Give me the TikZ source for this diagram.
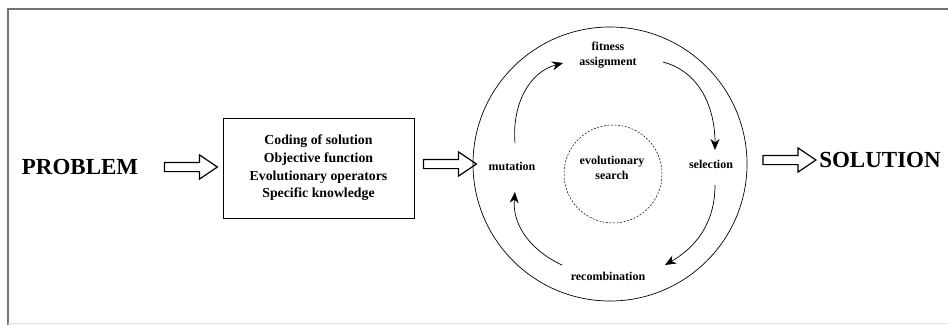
\documentclass[tikz,border=0pt]{standalone}
\usepackage{fontspec}
\setmainfont{Liberation Serif}
\usetikzlibrary{positioning,shapes.arrows,arrows.meta}
\tikzset{>=Stealth}

\begin{document}
\begin{tikzpicture}[x=1pt,y=1pt,
    bigword/.style={font=\fontsize{23}{27}\selectfont\bfseries},
    cycleword/.style={font=\fontsize{12}{14.5}\selectfont\bfseries, align=center},
    hollow/.style={single arrow, draw, line width=1.2pt, inner xsep=0pt, inner ysep=4pt,
      minimum height=53pt, single arrow head extend=7.5pt, single arrow tip angle=68},
    loop/.style={->, line width=0.7pt, >={Stealth[length=11pt,width=9pt,inset=3.5pt]}}]
      \useasboundingbox (0,0) rectangle (948,325);

      % frame
      \draw[black!55, line width=1.4pt] (8,0) |- (948,316);
      \draw[black!12, line width=1pt] (8,2) -- (948,2);

      % problem -> design
      \node[bigword] (problem) at (80,158) {PROBLEM};
      \node[hollow] (into) at (187.5,158) {};
      \node[draw, line width=0.7pt, minimum width=191pt, minimum height=100pt, align=center,
        font=\fontsize{13.8}{17.7}\selectfont\bfseries] (design) at (318.5,157)
        {Coding of solution\\Objective function\\Evolutionary operators\\Specific knowledge};
      \node[hollow] (feed) at (446.5,161) {};

      % evolutionary cycle
      \node[draw, circle, line width=0.7pt, minimum size=274pt] (cycle) at (610,161) {};
      \node[draw, circle, dash pattern=on 2pt off 1.5pt, line width=0.5pt, minimum size=98pt] (core) at (613,151) {};
      \node[cycleword] (search) at (612,157) {evolutionary\\search};
      \node[cycleword] (mutation) at (512,159) {mutation};
      \node[cycleword] (fitness) at (608,270) {fitness\\assignment};
      \node[cycleword] (selection) at (711,161) {selection};
      \node[cycleword] (recomb) at (608,49) {recombination};

      % arrow ends
      \coordinate (mut-out) at (515,182);
      \coordinate (fit-in) at (563,262);
      \coordinate (fit-out) at (663,263);
      \coordinate (sel-in) at (715,175);
      \coordinate (sel-out) at (715,140);
      \coordinate (rec-in) at (665,60);
      \coordinate (rec-out) at (562,60);
      \coordinate (mut-in) at (515,133);

      \draw[loop] (mut-out) to[out=95,in=195] (fit-in);
      \draw[loop] (fit-out) to[out=-15,in=90] (sel-in);
      \draw[loop] (sel-out) to[out=-90,in=30] (rec-in);
      \draw[loop] (rec-out) to[out=155,in=-95] (mut-in);

      % solution
      \node[hollow] (outof) at (786,165) {};
      \node[bigword] (solution) at (880,165) {SOLUTION};
\end{tikzpicture}
\end{document}
